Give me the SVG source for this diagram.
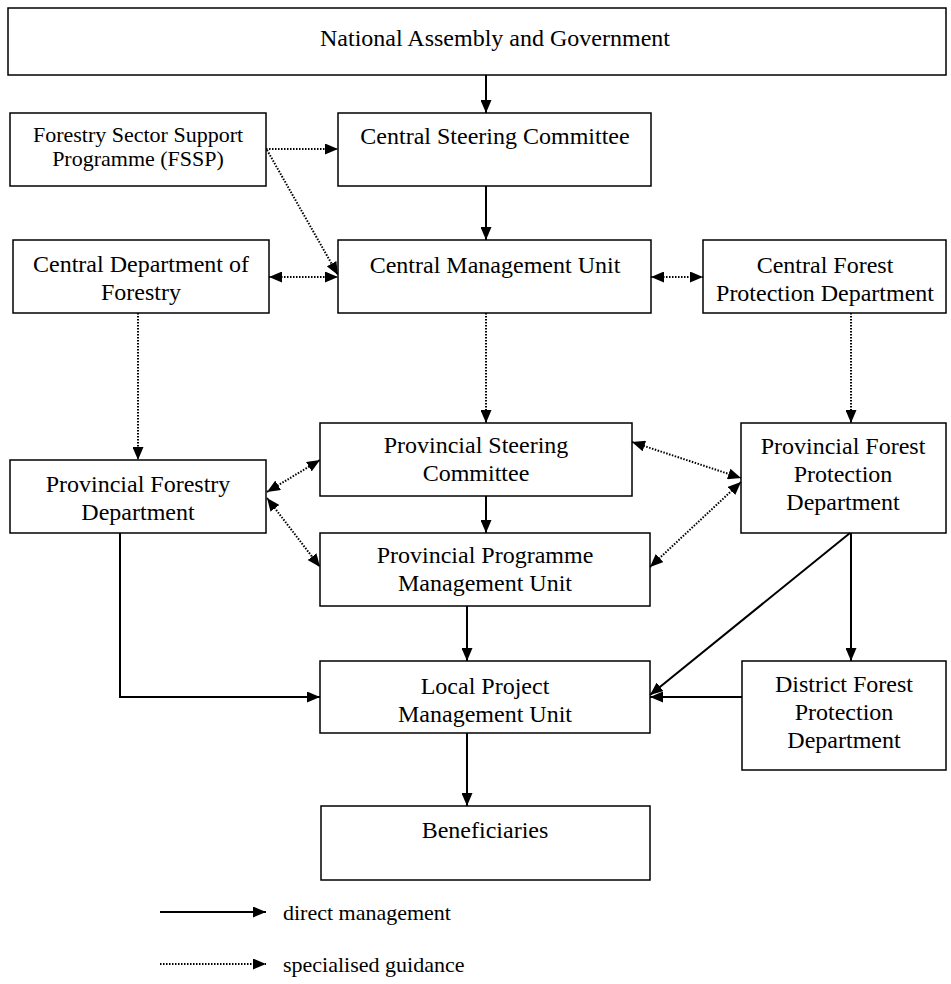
<svg xmlns="http://www.w3.org/2000/svg" width="951" height="984" viewBox="0 0 951 984">
<style>
.box{fill:#fff;stroke:#000;stroke-width:1.5}
text{font-family:"Liberation Serif","Times New Roman",serif;font-size:24px;fill:#000;text-anchor:middle}
.sm{font-size:22px}
.lg{text-anchor:start;font-size:22px}
.s{fill:none;stroke:#000;stroke-width:2}
.d{fill:none;stroke:#000;stroke-width:2;stroke-dasharray:1.5 1.5}
</style>
<defs>
<marker id="ah" markerUnits="userSpaceOnUse" markerWidth="13" markerHeight="11" refX="13" refY="5.5" orient="auto-start-reverse" viewBox="0 0 13 11">
<path d="M0,0 L13,5.5 L0,11 z" fill="#000"/>
</marker>
</defs>
<g id="n-national"><rect class="box" x="8" y="8" width="938" height="67"/><text x="495" y="46">National Assembly and Government</text></g>
<g id="n-fssp"><rect class="box" x="10" y="113" width="256" height="73"/><text class="sm" x="138" y="142">Forestry Sector Support</text><text class="sm" x="138" y="166">Programme (FSSP)</text></g>
<g id="n-csc"><rect class="box" x="338" y="113" width="313" height="73"/><text x="495" y="144">Central Steering Committee</text></g>
<g id="n-cdf"><rect class="box" x="13" y="240" width="256" height="73"/><text x="141" y="272">Central Department of</text><text x="141" y="300">Forestry</text></g>
<g id="n-cmu"><rect class="box" x="338" y="240" width="313" height="73"/><text x="495" y="273">Central Management Unit</text></g>
<g id="n-cfpd"><rect class="box" x="703" y="240" width="243" height="73"/><text x="825" y="273">Central Forest</text><text x="825" y="301">Protection Department</text></g>
<g id="n-psc"><rect class="box" x="320" y="423" width="312" height="73"/><text x="476" y="453">Provincial Steering</text><text x="476" y="481">Committee</text></g>
<g id="n-pfd"><rect class="box" x="10" y="460" width="256" height="73"/><text x="138" y="492">Provincial Forestry</text><text x="138" y="520">Department</text></g>
<g id="n-ppmu"><rect class="box" x="320" y="533" width="330" height="73"/><text x="485" y="563">Provincial Programme</text><text x="485" y="591">Management Unit</text></g>
<g id="n-pfpd"><rect class="box" x="741" y="423" width="205" height="110"/><text x="843" y="454">Provincial Forest</text><text x="843" y="482">Protection</text><text x="843" y="510">Department</text></g>
<g id="n-lpmu"><rect class="box" x="320" y="661" width="330" height="72"/><text x="485" y="694">Local Project</text><text x="485" y="722">Management Unit</text></g>
<g id="n-dfpd"><rect class="box" x="742" y="661" width="204" height="109"/><text x="844" y="692">District Forest</text><text x="844" y="720">Protection</text><text x="844" y="748">Department</text></g>
<g id="n-ben"><rect class="box" x="321" y="806" width="329" height="74"/><text x="485" y="838">Beneficiaries</text></g>
<g id="connectors">
<line class="s" x1="486" y1="75" x2="486" y2="113" marker-end="url(#ah)"/>
<line class="s" x1="486" y1="186" x2="486" y2="240" marker-end="url(#ah)"/>
<line class="d" x1="266" y1="149" x2="338" y2="149" marker-end="url(#ah)"/>
<line class="d" x1="267" y1="150" x2="338" y2="275" marker-end="url(#ah)"/>
<line class="d" x1="269" y1="277" x2="338" y2="277" marker-start="url(#ah)" marker-end="url(#ah)"/>
<line class="d" x1="651" y1="277" x2="703" y2="277" marker-start="url(#ah)" marker-end="url(#ah)"/>
<line class="d" x1="138" y1="313" x2="138" y2="460" marker-end="url(#ah)"/>
<line class="d" x1="486" y1="313" x2="486" y2="423" marker-end="url(#ah)"/>
<line class="d" x1="851" y1="313" x2="851" y2="423" marker-end="url(#ah)"/>
<line class="d" x1="267" y1="492" x2="320" y2="460" marker-start="url(#ah)" marker-end="url(#ah)"/>
<line class="d" x1="267" y1="498" x2="320" y2="567" marker-start="url(#ah)" marker-end="url(#ah)"/>
<line class="d" x1="632" y1="442" x2="741" y2="478" marker-start="url(#ah)" marker-end="url(#ah)"/>
<line class="d" x1="650" y1="567" x2="741" y2="482" marker-start="url(#ah)" marker-end="url(#ah)"/>
<line class="s" x1="486" y1="496" x2="486" y2="533" marker-end="url(#ah)"/>
<line class="s" x1="467" y1="606" x2="467" y2="661" marker-end="url(#ah)"/>
<polyline class="s" points="120,533 120,697 320,697" marker-end="url(#ah)"/>
<line class="s" x1="850" y1="533" x2="650" y2="695" marker-end="url(#ah)"/>
<line class="s" x1="851" y1="533" x2="851" y2="661" marker-end="url(#ah)"/>
<line class="s" x1="742" y1="697" x2="650" y2="697" marker-end="url(#ah)"/>
<line class="s" x1="467" y1="733" x2="467" y2="806" marker-end="url(#ah)"/>
</g>
<g id="legend">
<line class="s" x1="160" y1="912" x2="266" y2="912" marker-end="url(#ah)"/>
<text class="lg" x="283" y="920">direct management</text>
<line class="d" x1="160" y1="964" x2="266" y2="964" marker-end="url(#ah)"/>
<text class="lg" x="283" y="972">specialised guidance</text>
</g>
</svg>
